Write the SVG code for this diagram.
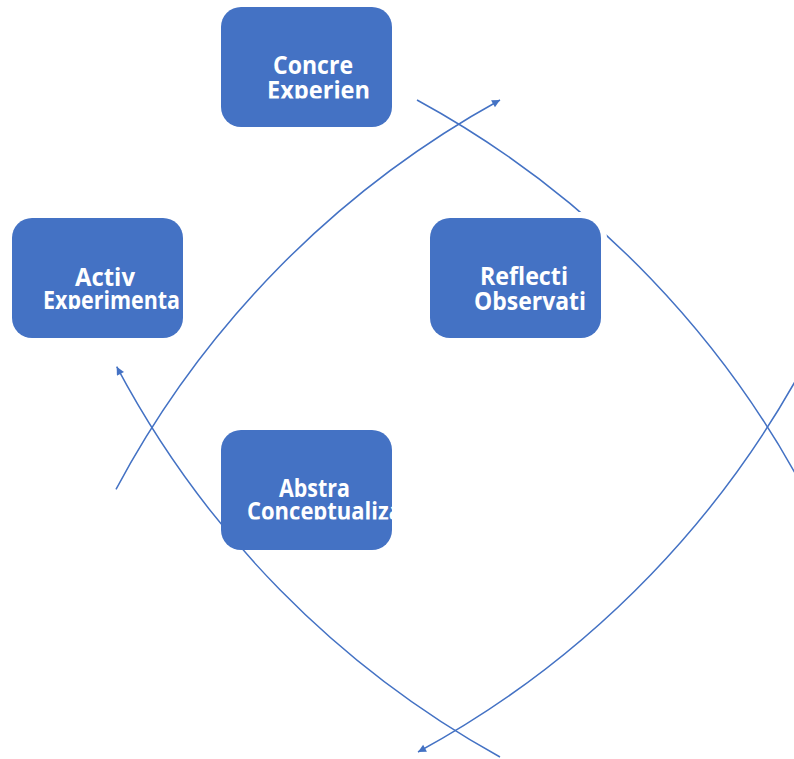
<svg xmlns="http://www.w3.org/2000/svg" width="794" height="759" viewBox="0 0 794 759">
<style>
.box{fill:#4472C4}
.halo{fill:#ffffff}
.lbl{font-family:"Open Sans","Noto Sans","DejaVu Sans",sans-serif;font-weight:700;font-size:25px;fill:#ffffff}
.arc{fill:none;stroke:#4472C4;stroke-width:1.5;marker-end:url(#ah)}
</style>
<defs>
<marker id="ah" viewBox="0 0 10 10" refX="10" refY="5" markerUnits="userSpaceOnUse" markerWidth="9" markerHeight="8" orient="auto"><path d="M0,0 L10,5 L0,10 z" fill="#4472C4"/></marker>
<clipPath id="cp-ce"><rect x="221" y="7" width="171" height="91.5"/></clipPath>
<clipPath id="cp-ae"><rect x="12" y="218" width="171" height="91"/></clipPath>
<clipPath id="cp-ro"><rect x="430" y="218" width="171" height="93"/></clipPath>
<clipPath id="cp-ac"><rect x="221" y="430" width="171" height="89.5"/></clipPath>
</defs>
<rect width="794" height="759" fill="#ffffff"/>
<g id="connectors">
<path class="arc" d="M116,489.3 A960,960 0 0 1 500,100"/>
<path class="arc" d="M417,100 A960,960 0 0 1 819.7,520"/>
<path class="arc" d="M819.7,335 A960,960 0 0 1 418,752"/>
<path class="arc" d="M500,757 A960,960 0 0 1 116.7,366.7"/>
</g>
<g id="concrete-experience">
<rect class="box" x="221" y="7" width="171" height="120" rx="20"/>
<g clip-path="url(#cp-ce)">
<text class="lbl" x="273" y="74" textLength="80" lengthAdjust="spacingAndGlyphs">Concre</text>
<text class="lbl" x="267" y="98.5" textLength="103" lengthAdjust="spacingAndGlyphs">Experien</text>
</g>
</g>
<g id="active-experimentation">
<rect class="box" x="12" y="218" width="171" height="120" rx="20"/>
<g clip-path="url(#cp-ae)">
<text class="lbl" x="75" y="286" textLength="60" lengthAdjust="spacingAndGlyphs">Activ</text>
<text class="lbl" x="43" y="309" textLength="137" lengthAdjust="spacingAndGlyphs">Experimenta</text>
</g>
</g>
<g id="reflective-observation">
<rect class="halo" x="424" y="212" width="183" height="132" rx="26"/>
<rect class="box" x="430" y="218" width="171" height="120" rx="20"/>
<g clip-path="url(#cp-ro)">
<text class="lbl" x="480" y="285" textLength="88" lengthAdjust="spacingAndGlyphs">Reflecti</text>
<text class="lbl" x="474" y="310" textLength="112" lengthAdjust="spacingAndGlyphs">Observati</text>
</g>
</g>
<g id="abstract-conceptualization">
<rect class="box" x="221" y="430" width="171" height="120" rx="20"/>
<g clip-path="url(#cp-ac)">
<text class="lbl" x="279" y="497" textLength="71" lengthAdjust="spacingAndGlyphs">Abstra</text>
<text class="lbl" x="247" y="519.5" textLength="155" lengthAdjust="spacingAndGlyphs">Conceptualiza</text>
</g>
</g>
</svg>
